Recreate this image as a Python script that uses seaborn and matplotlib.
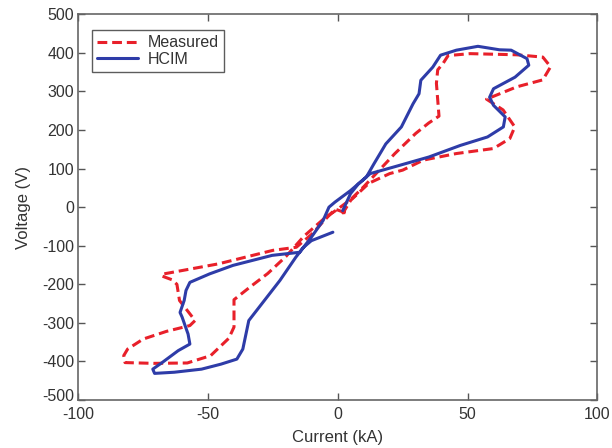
import matplotlib
matplotlib.use("Agg")
import matplotlib.pyplot as plt
import matplotlib.transforms as mtransforms
import seaborn as sns
import pandas as pd

# Measured (red dashed)
meas_x = [3, -1, -6, -10, -16, -25, -46, -67, -68, -64, -62, -61, -58, -55, -57, -66, -75,
          -81, -82.5, -82, -71, -58, -49, -42, -40, -40, -34, -27, -20, -13, -5, 0, 5, 10,
          16, 22, 30, 35, 39, 38, 38.5, 40.6, 42.5, 51, 69, 79, 82, 79, 69, 57.3, 63.7,
          68.2, 66.3, 60, 45.7, 33, 25, 20, 12, 5, 2, 4]
meas_y = [-15, -5, -40, -70, -104, -112, -147, -173, -178, -188, -200, -242, -268, -294,
          -307, -322, -342, -368, -385, -403, -405, -404, -385, -340, -311, -240, -208,
          -172, -128, -75, -28, -5, 20, 53, 96, 139, 191, 218, 236, 321, 356, 373, 393,
          398, 395, 389, 364, 330, 312, 280, 252, 208, 178, 152, 139, 122, 96, 87, 62, 18,
          -15, -5]

# HCIM (blue solid)
hcim_x = [-1.9, -10.2, -13.2, -14.7, -25.3, -40.4, -49.4, -57, -58.5, -59.2, -60.8, -60,
          -57.7, -57, -61.5, -67.5, -71.3, -70.6, -63, -52.5, -45, -38.9, -36.6, -34.3,
          -31.3, -22.3, -16.2, -10.2, -5.7, -3.4, -1.1, 4.9, 11, 13.9, 18.5, 24.5, 29,
          31.3, 32, 36.6, 39.6, 45.7, 54, 62.3, 66.8, 72.9, 73.6, 68.3, 60, 58.5, 60, 64.5,
          63.8, 57.7, 47.2, 35.1, 21.5, 12.5, 7.9, 4.9, 3.4, 1.9]
hcim_y = [-65, -87, -104, -117, -125, -151, -173, -195, -216, -242, -273, -285, -329,
          -355, -372, -402, -420, -431, -428, -420, -407, -394, -368, -294, -268, -190,
          -130, -78, -35, 0, 13, 43, 78, 112, 164, 208, 268, 294, 329, 363, 394, 407, 417,
          408, 407, 385, 368, 337, 307, 285, 264, 234, 208, 182, 160, 130, 104, 87, 60, 35,
          13, -9]

x_ticks = [-100, -50, 0, 50, 100]
y_ticks = [-500, -400, -300, -200, -100, 0, 100, 200, 300, 400, 500]

sns.set_style("white")
plt.rcParams['font.family'] = ['Liberation Sans', 'DejaVu Sans']
plt.rcParams['axes.unicode_minus'] = False

fig = plt.figure(figsize=(6.12, 4.48), dpi=100)
ax = fig.add_axes([78.3 / 612, 1 - 400 / 448, (597.3 - 78.3) / 612, (400 - 14.3) / 448])

df_m = pd.DataFrame({"x": meas_x, "y": meas_y})
df_h = pd.DataFrame({"x": hcim_x, "y": hcim_y})

sns.lineplot(data=df_m, x="x", y="y", sort=False, estimator=None, ax=ax,
             color="#e8202a", linewidth=2.2, linestyle=(0, (3.2, 1.6)), label="Measured")
sns.lineplot(data=df_h, x="x", y="y", sort=False, estimator=None, ax=ax,
             color="#2e3ca8", linewidth=2.2, label="HCIM")

ax.set_xlim(-100, 100)
ax.set_ylim(-500, 500)
ax.set_xticks(x_ticks)
ax.set_yticks(y_ticks)
ax.set_xlabel("Current (kA)", fontsize=12, color="#333333", labelpad=6)
ax.set_ylabel("Voltage (V)", fontsize=12, color="#333333", labelpad=8)
ax.tick_params(direction="in", length=5, width=1, color="#555555", labelsize=11.5,
               labelcolor="#333333", top=True, right=True, bottom=True, left=True)
ax.tick_params(axis="x", pad=5)
ax.tick_params(axis="y", pad=3)
for s in ax.spines.values():
    s.set_visible(True)
    s.set_color("#666666")
    s.set_linewidth(1.2)

# lift the lowest y label slightly, as in the reference
lbl = ax.get_yticklabels()[0]
lbl.set_transform(lbl.get_transform() + mtransforms.ScaledTranslation(0, 5 / 100, fig.dpi_scale_trans))

leg = ax.legend(loc="upper left", bbox_to_anchor=(0.026, 0.958), fontsize=11.5,
                frameon=True, fancybox=False, handlelength=2.6, borderpad=0.3,
                labelspacing=0.1, handletextpad=0.6, borderaxespad=0)
leg.get_frame().set_edgecolor("#333333")
leg.get_frame().set_linewidth(1.0)
for t in leg.get_texts():
    t.set_color("#333333")

fig.savefig("out.png", dpi=100)
